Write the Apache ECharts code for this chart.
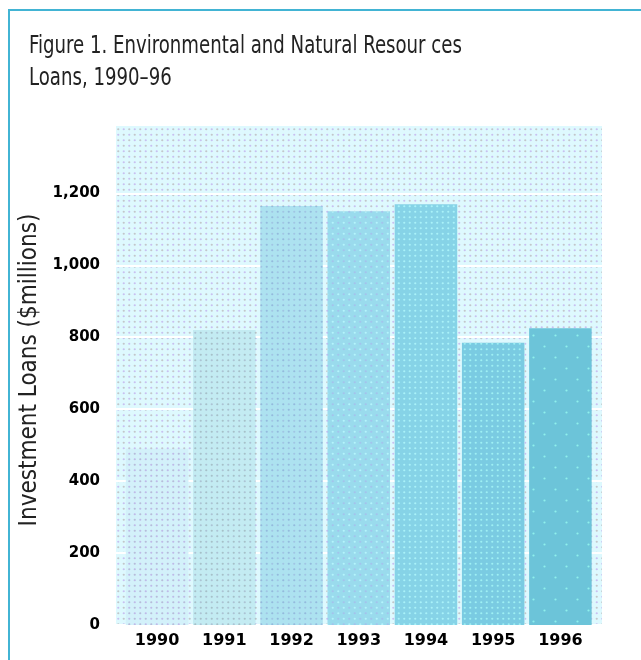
<!DOCTYPE html>
<html>
<head>
<meta charset="utf-8">
<script src="https://cdn.jsdelivr.net/npm/echarts@6/dist/echarts.min.js"></script>
<style>
  html, body { margin: 0; padding: 0; background: #ffffff; }
  #chart { width: 641px; height: 660px; }
</style>
</head>
<body>
<div id="chart"></div>
<script>
// Environmental and natural resources loans by year ($ millions)
const years = ['1990', '1991', '1992', '1993', '1994', '1995', '1996'];
const loans = [490, 820, 1165, 1150, 1170, 785, 825];
const yTickLabels = ['0', '200', '400', '600', '800', '1,000', '1,200'];
const yStep = 200;
const yMax = 1390;

// Small dotted tiles used as fills (screen-tone look)
function makeTile(base, dots, step) {
  const size = step * 2;
  const c = document.createElement('canvas');
  c.width = size; c.height = size;
  const g = c.getContext('2d');
  g.fillStyle = base;
  g.fillRect(0, 0, size, size);
  const pos = [[0, 0, dots[0]], [step, 0, dots[1]], [0, step, dots[1]], [step, step, dots[0]]];
  pos.forEach(([x, y, col]) => {
    if (!col) return;
    g.fillStyle = col;
    g.beginPath();
    g.arc(x + step / 2, y + step / 2, 1.1, 0, Math.PI * 2);
    g.fill();
  });
  return { image: c, repeat: 'repeat' };
}

const plotTone = makeTile('#def9fe', ['#c2c6ca', '#c8c0f0'], 5.5);
const barTones = [
  makeTile('#d3f1fa', ['#b6bcda', '#bfbae8'], 5.5),
  makeTile('#c3ebf2', ['#a6c0c8', '#acc3d4'], 5.5),
  makeTile('#ade2f0', ['#94badd', '#a1c5e4'], 5.5),
  makeTile('#9adbed', ['#b4f4fb', '#a4c2ec'], 5.5),
  makeTile('#86d3e7', ['#a9f2f8', '#a9f2f8'], 5.5),
  makeTile('#7acbe2', ['#9eeff3', '#9eeff3'], 5.5),
  makeTile('#6cc4d9', ['#8ff0ec', null], 11)
];

const textFont = "'DejaVu Sans Condensed', 'DejaVu Sans', sans-serif";
const tickFont = "'DejaVu Sans', sans-serif";

const chart = echarts.init(document.getElementById('chart'), null, { renderer: 'canvas' });

chart.setOption({
  animation: false,
  backgroundColor: '#ffffff',
  graphic: [
    {
      type: 'rect',
      z: -10,
      shape: { x: 9, y: 10, width: 700, height: 700 },
      style: { fill: 'none', stroke: '#42b4d4', lineWidth: 2 }
    },
    {
      type: 'text',
      x: 29,
      y: 31,
      scaleX: 0.84,
      style: {
        text: 'Figure 1. Environmental and Natural Resour ces\nLoans, 1990–96',
        font: "24px 'DejaVu Sans Condensed', 'DejaVu Sans', sans-serif",
        fill: '#222222',
        lineHeight: 32
      }
    }
  ],
  grid: [
    { left: 116, right: 39, top: 125, bottom: 35, show: true, backgroundColor: plotTone, borderWidth: 0 },
    { left: 123.5, right: 47, top: 125, bottom: 35 }
  ],
  xAxis: [
    { type: 'category', gridIndex: 0, data: years, show: false },
    {
      type: 'category',
      gridIndex: 1,
      data: years,
      axisLine: { show: false },
      axisTick: { show: false },
      axisLabel: {
        margin: 8,
        color: '#000000',
        fontFamily: tickFont,
        fontWeight: 'bold',
        fontSize: 16
      }
    }
  ],
  yAxis: [
    {
      type: 'value',
      gridIndex: 0,
      min: 0,
      max: yMax,
      interval: yStep,
      name: 'Investment Loans ($millions)',
      nameLocation: 'middle',
      nameGap: 63,
      nameTextStyle: {
        fontFamily: textFont,
        fontSize: 24,
        color: '#222222',
        padding: [0, 0, 0, 10]
      },
      axisLine: { show: false },
      axisTick: { show: false },
      axisLabel: {
        margin: 16,
        showMaxLabel: false,
        color: '#000000',
        fontFamily: tickFont,
        fontWeight: 'bold',
        fontSize: 15,
        formatter: v => yTickLabels[Math.round(v / yStep)] || ''
      },
      splitLine: { show: true, lineStyle: { color: '#ffffff', width: 2 } }
    },
    { type: 'value', gridIndex: 1, min: 0, max: yMax, interval: yStep, show: false, splitLine: { show: false } }
  ],
  series: [{
    type: 'bar',
    xAxisIndex: 1,
    yAxisIndex: 1,
    barCategoryGap: '7%',
    data: loans.map((v, i) => ({ value: v, itemStyle: { color: barTones[i] } }))
  }]
});
</script>
</body>
</html>
